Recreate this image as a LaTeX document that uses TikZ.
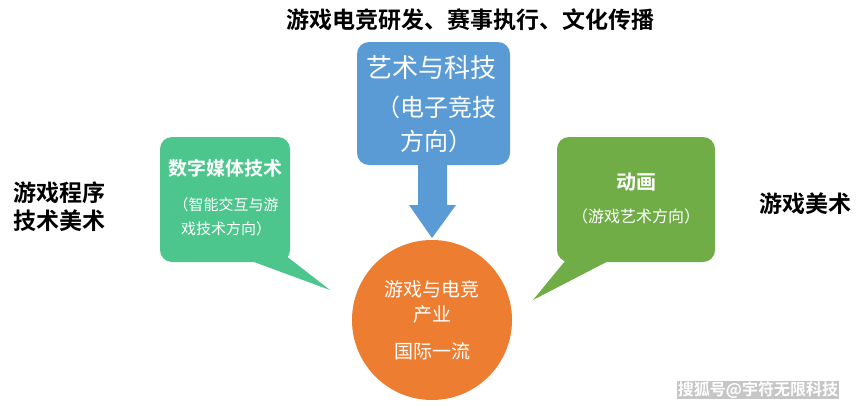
\documentclass[tikz,border=0pt]{standalone}
\usepackage{fontspec}
\setmainfont{Noto Sans CJK SC}
\newfontfamily\cjkb{Noto Sans CJK SC Bold}
\definecolor{gr}{HTML}{4CC68C}
\definecolor{bl}{HTML}{5B9BD5}
\definecolor{ol}{HTML}{70AD47}
\definecolor{og}{HTML}{ED7D31}
\begin{document}
\begin{tikzpicture}[x=1pt,y=-1pt,
  lbl/.style={font=\cjkb\fontsize{23}{28}\selectfont,align=center,text=black},
  wt/.style={text=white,align=center}]
\useasboundingbox (0,0) rectangle (860,408);
% green callout
\fill[gr,rounded corners=12] (160,137) rectangle (290,262);
\fill[gr] (235,255) -- (285,255) -- (330,290) -- cycle;
\node[wt,font=\cjkb\fontsize{19}{22}\selectfont] (g1) at (225,168) {数字媒体技术};
\node[wt,font=\fontsize{15}{24}\selectfont] (g2) at (226,217) {（智能交互与游\\戏技术方向）};
% olive callout
\fill[ol,rounded corners=12] (557,137) rectangle (715,262);
\fill[ol] (570,255) -- (620,255) -- (533,300) -- cycle;
\node[wt,font=\cjkb\fontsize{20}{22}\selectfont] (o1) at (636,182) {动画};
\node[wt,font=\fontsize{16}{20}\selectfont] (o2) at (636,216) {（游戏艺术方向）};
% blue box with arrow
\fill[bl,rounded corners=12] (357,42) rectangle (510,165);
\fill[bl] (418,160) -- (447,160) -- (447,205) -- (456,205) -- (432,238) -- (409,205) -- (418,205) -- cycle;
\node[wt,font=\fontsize{26}{30}\selectfont] (b1) at (431,68) {艺术与科技};
\node[wt,font=\fontsize{24}{34}\selectfont] (b2) at (436,124) {（电子竞技\\方向）};
% circle
\node[circle,fill=og,minimum size=160pt,inner sep=0] (c) at (432,320) {};
\node[wt,font=\fontsize{19}{25}\selectfont] (c1) at (432,302) {游戏与电竞\\产业};
\node[wt,font=\fontsize{19}{25}\selectfont] (c2) at (432,351) {国际一流};
% labels
\node[lbl] (t) at (470,20) {游戏电竞研发、赛事执行、文化传播};
\node[lbl,align=left] (l) at (59,207) {游戏程序\\技术美术};
\node[lbl] (r) at (805,204) {游戏美术};
\node[font=\cjkb\fontsize{16}{18}\selectfont,text=white,fill=gray!45,inner sep=1pt] (w) at (758,390) {搜狐号@宇符无限科技};
\end{tikzpicture}
\end{document}
